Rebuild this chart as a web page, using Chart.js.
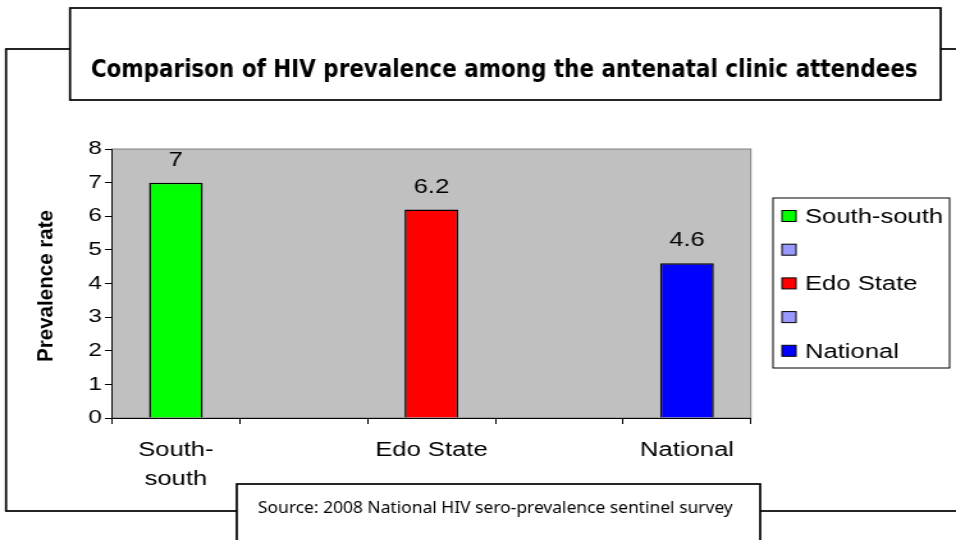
<!DOCTYPE html>
<html>
<head>
<meta charset="utf-8">
<script src="https://cdn.jsdelivr.net/npm/chart.js@4/dist/chart.umd.min.js"></script>
<style>
  html, body { margin: 0; padding: 0; background: #fff; overflow: hidden; }
  /* the reference is a horizontally stretched picture, so the whole canvas is stretched the same way */
  #wrap { width: 747px; height: 540px; transform: scaleX(1.2798); transform-origin: 0 0; }
</style>
</head>
<body>
<div id="wrap"><canvas id="prevChart" width="747" height="540"></canvas></div>
<script>
const categories = ['South-south', '', 'Edo State', '', 'National'];
const prevalence = [7, null, 6.2, null, 4.6];
const barColors = ['#00FF00', '#9999FF', '#FF0000', '#9999FF', '#0000FF'];
const yMin = 0, yMax = 8, yStep = 1;
const titleText = 'Comparison of HIV prevalence among the antenatal clinic attendees';
const yTitleText = 'Prevalence rate';
const sourceText = 'Source: 2008 National HIV sero-prevalence sentinel survey';

const W = 747, H = 540;
const AREA = { left: 87.5, right: 586.7, top: 149, bottom: 418 };

// draw a text squeezed/stretched to a given width
function fitText(ctx, text, cx, y, width) {
    const w = ctx.measureText(text).width;
    ctx.save();
    ctx.translate(cx, y);
    ctx.scale(width / w, 1);
    ctx.textAlign = 'center';
    ctx.fillText(text, 0, 0);
    ctx.restore();
}

const decor = {
    id: 'decor',
    beforeDraw(chart) {
        const ctx = chart.ctx;
        const a = chart.chartArea;
        ctx.save();
        ctx.fillStyle = '#fff';
        ctx.fillRect(0, 0, W, H);

        // outer frame
        ctx.strokeStyle = '#000';
        ctx.lineWidth = 1.7;
        ctx.strokeRect(4.7, 49, W + 20, 511 - 49);

        // title box
        ctx.fillStyle = '#fff';
        ctx.fillRect(54.7, 8, 735 - 54.7, 92);
        ctx.strokeRect(54.7, 8, 735 - 54.7, 92);
        ctx.fillStyle = '#000';
        ctx.font = "bold 24px 'DejaVu Sans'";
        ctx.textBaseline = 'alphabetic';
        fitText(ctx, titleText, 394, 77, 646);

        // source box
        ctx.fillStyle = '#fff';
        ctx.fillRect(185, 484, 594 - 185, 80);
        ctx.strokeRect(185, 484, 594 - 185, 80);
        ctx.fillStyle = '#000';
        ctx.font = "17px 'Noto Sans'";
        fitText(ctx, sourceText, 387, 513, 371);

        // plot area
        ctx.fillStyle = '#C0C0C0';
        ctx.fillRect(a.left, a.top, a.right - a.left, a.bottom - a.top);
        ctx.strokeStyle = '#808080';
        ctx.lineWidth = 1;
        ctx.strokeRect(a.left, a.top, a.right - a.left, a.bottom - a.top);

        // y axis title
        ctx.save();
        ctx.translate(36, 286);
        ctx.rotate(-Math.PI / 2);
        ctx.fillStyle = '#000';
        ctx.font = "bold 17px 'Liberation Sans'";
        ctx.textBaseline = 'middle';
        fitText(ctx, yTitleText, 0, 0, 152);
        ctx.restore();
        ctx.restore();
    },
    afterDatasetsDraw(chart) {
        const ctx = chart.ctx;
        const meta = chart.getDatasetMeta(0);
        ctx.save();
        ctx.fillStyle = '#000';
        ctx.font = "20px 'Liberation Sans'";
        ctx.textAlign = 'center';
        ctx.textBaseline = 'middle';
        meta.data.forEach((bar, i) => {
            if (prevalence[i] == null) return;
            ctx.fillText(String(prevalence[i]), bar.x, bar.y - 22.5);
        });
        ctx.restore();
    },
    afterDraw(chart) {
        // legend, one entry per category as in the spreadsheet chart
        const ctx = chart.ctx;
        ctx.save();
        ctx.strokeStyle = '#000';
        ctx.lineWidth = 1;
        ctx.fillStyle = '#fff';
        ctx.fillRect(604, 198, 138, 170);
        ctx.strokeRect(604, 198, 138, 170);
        ctx.font = "20px 'Liberation Sans'";
        ctx.textBaseline = 'middle';
        ctx.textAlign = 'left';
        categories.forEach((name, i) => {
            const cy = 216.5 + i * 33.7;
            ctx.fillStyle = barColors[i];
            ctx.fillRect(611, cy - 6, 11, 11);
            ctx.strokeRect(611, cy - 6, 11, 11);
            ctx.fillStyle = '#000';
            ctx.fillText(name, 629, cy + 1);
        });
        ctx.restore();
    }
};

const ctx = document.getElementById('prevChart').getContext('2d');

new Chart(ctx, {
    type: 'bar',
    data: {
        labels: categories,
        datasets: [{
            label: 'Prevalence rate',
            data: prevalence,
            backgroundColor: barColors,
            borderColor: '#000',
            borderWidth: 1.5,
            barPercentage: 0.42,
            categoryPercentage: 1
        }]
    },
    options: {
        responsive: false,
        animation: false,
        devicePixelRatio: 1,
        layout: {
            padding: { left: 0, top: AREA.top, right: W - AREA.right, bottom: 0 }
        },
        plugins: {
            legend: { display: false },
            title: { display: false },
            tooltip: { enabled: false }
        },
        scales: {
            x: {
                afterFit: s => { s.height = H - AREA.bottom; },
                grid: {
                    offset: true,
                    drawOnChartArea: false,
                    color: '#000',
                    tickLength: 6
                },
                border: { color: '#000', width: 1 },
                ticks: {
                    color: '#000',
                    padding: 12,
                    maxRotation: 0,
                    autoSkip: false,
                    font: { family: 'Liberation Sans', size: 20, lineHeight: 1.45 },
                    callback: (v, i) => {
                        const lab = categories[i];
                        const k = lab.indexOf('-');
                        return k > 0 ? [lab.slice(0, k + 1), lab.slice(k + 1)] : lab;
                    }
                }
            },
            y: {
                min: yMin,
                max: yMax,
                afterFit: s => { s.width = AREA.left; },
                grid: {
                    drawOnChartArea: false,
                    color: '#000',
                    tickLength: 5.5
                },
                border: { color: '#000', width: 1 },
                ticks: {
                    stepSize: yStep,
                    color: '#000',
                    padding: 2.5,
                    font: { family: 'Liberation Sans', size: 19 }
                }
            }
        }
    },
    plugins: [decor]
});
</script>
</body>
</html>
